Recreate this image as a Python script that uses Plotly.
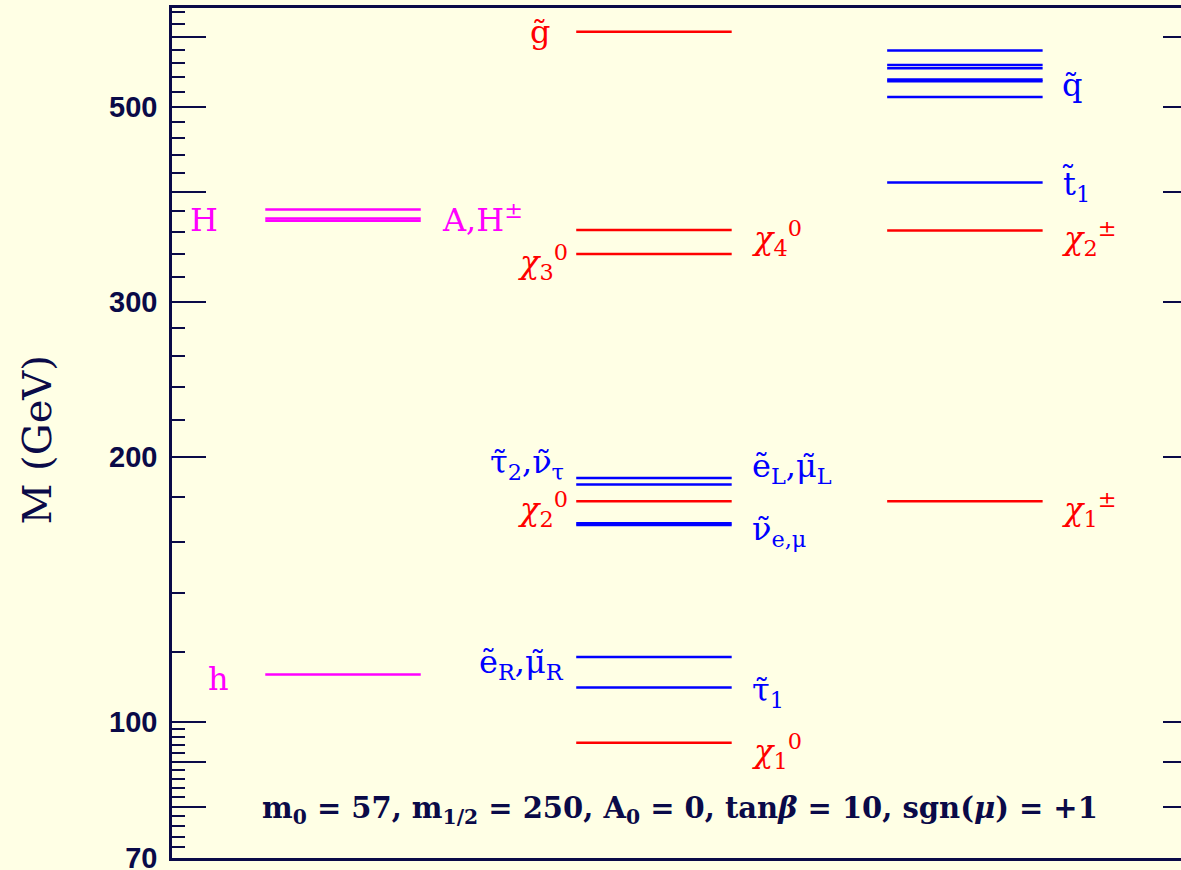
import numpy as np
import plotly.graph_objects as go

# ---------------- data (masses in GeV) ----------------
# column 1: Higgs bosons (magenta)
higgs_mass = [113.1, 381.8, 373.1, 370.8]
# column 2: gluino + neutralinos (red)
neut_mass = [608.0, 362.0, 340.0, 178.0, 94.6]
# column 2: sleptons (blue)
slep_mass = [189.2, 186.0, 168.0, 167.3, 118.4, 109.3]
# column 3: squarks and stop (blue)
squark_mass = [578.9, 557.6, 552.6, 536.6, 534.4, 512.8, 410.0]
# column 3: charginos (red)
char_mass = [361.6, 178.0]

major_ticks = [70, 80, 90, 100, 200, 300, 400, 500, 600]
major_text = ["70", "", "", "100", "200", "300", "", "500", ""]
minor_ticks = ([72, 74, 76, 78, 82, 84, 86, 88, 92, 94, 96, 98]
               + [120, 140, 160, 180, 220, 240, 260, 280, 320, 340, 360, 380,
                  420, 440, 460, 480, 520, 540, 560, 580, 620, 640])
right_ticks = [80, 90, 100, 200, 300, 400, 500, 600]

MAGENTA = "#FF00FF"
RED = "#FF0000"
BLUE = "#0000FF"
NAVY = "#0a0a48"
BG = "#FFFFE5"

HALF = 0.25
cols = {1: 1.0, 2: 2.0, 3: 3.0}

fig = go.Figure()


def add_levels(col, masses, color):
    xs, ys = [], []
    for m in masses:
        xs += [cols[col] - HALF, cols[col] + HALF, None]
        ys += [m, m, None]
    fig.add_trace(go.Scatter(x=xs, y=ys, mode="lines",
                             line=dict(color=color, width=2.5),
                             hoverinfo="skip", showlegend=False))


add_levels(1, higgs_mass, MAGENTA)
add_levels(2, neut_mass, RED)
add_levels(2, slep_mass, BLUE)
add_levels(3, squark_mass, BLUE)
add_levels(3, char_mass, RED)

# invisible trace for right-hand tick axis
fig.add_trace(go.Scatter(x=[2], y=[100], yaxis="y2", mode="markers",
                         marker=dict(opacity=0), hoverinfo="skip",
                         showlegend=False))

LFONT = "DejaVu Serif"
LSIZE = 32
T = "\u0303"
CHI = "<i>χ</i>"


def label(text, x, mass, color, xanchor, yshift):
    fig.add_annotation(x=x, y=np.log10(mass), xref="x", yref="y",
                       text=text, showarrow=False, xanchor=xanchor,
                       yanchor="middle", yshift=yshift,
                       font=dict(family=LFONT, size=LSIZE, color=color))


XL = 2.309   # left edge of labels right of column 2
XR = 1.730   # right edge of labels left of column 2
X3 = 3.305   # left edge of labels right of column 3

label("H", 0.553, higgs_mass[2], MAGENTA, "center", -2)
label("h", 0.598, higgs_mass[0], MAGENTA, "center", -4)
label("A,H<sup>±</sup>", 1.312, higgs_mass[2], MAGENTA, "left", 0)

label("g" + T, 1.672, neut_mass[0], RED, "right", 0)
label(CHI + "<sub>3</sub><sup>0</sup>", XR, neut_mass[2], RED, "right", -8)
label(CHI + "<sub>4</sub><sup>0</sup>", XL, neut_mass[1], RED, "left", -8)
label(CHI + "<sub>2</sub><sup>0</sup>", XR, neut_mass[3], RED, "right", -8)
label(CHI + "<sub>1</sub><sup>0</sup>", XL, neut_mass[4], RED, "left", -8)

label("τ" + T + "<sub>2</sub>,ν" + T + "<sub>τ</sub>", 1.717, slep_mass[0],
      BLUE, "right", 14)
label("ẽ<sub>L</sub>,μ" + T + "<sub>L</sub>", XL, slep_mass[0], BLUE, "left", 10)
label("ν" + T + "<sub>e,μ</sub>", XL, slep_mass[2], BLUE, "left", -8)
label("ẽ<sub>R</sub>,μ" + T + "<sub>R</sub>", 1.717, slep_mass[4], BLUE, "right", -7)
label("τ" + T + "<sub>1</sub>", XL, slep_mass[5], BLUE, "left", -4)

label("q" + T, X3, squark_mass[4], BLUE, "left", -4)
label("t" + T + "<sub>1</sub>", X3, squark_mass[6], BLUE, "left", -3)
label(CHI + "<sub>2</sub><sup>±</sup>", X3, char_mass[0], RED, "left", -8)
label(CHI + "<sub>1</sub><sup>±</sup>", X3, char_mass[1], RED, "left", -8)

# parameter text
fig.add_annotation(
    x=0.503, y=0.056, xref="paper", yref="paper", showarrow=False,
    xanchor="center", yanchor="middle",
    text="m<sub>0</sub> = 57, m<sub>1/2</sub> = 250, A<sub>0</sub> = 0, "
         "tan<i>β</i> = 10, sgn(<i>μ</i>) = +1",
    font=dict(family="DejaVu Serif", size=29, color=NAVY, weight="bold"))

# axis title
fig.add_annotation(
    x=-0.134, y=0.492, xref="paper", yref="paper", showarrow=False,
    xanchor="center", yanchor="middle", textangle=-90,
    text="M (GeV)",
    font=dict(family="DejaVu Serif", size=40, color=NAVY))

yr = [np.log10(70) - 2e-4, 2.811]
fig.update_layout(
    width=1181, height=870,
    margin=dict(l=172, r=0, t=8, b=12, autoexpand=False),
    paper_bgcolor=BG, plot_bgcolor=BG,
    xaxis=dict(range=[0.45, 3.695], showgrid=False, zeroline=False,
               showticklabels=False, ticks="", showline=True, mirror=True,
               linecolor=NAVY, linewidth=2.5, automargin=False),
    yaxis=dict(type="log", range=yr, showgrid=False, zeroline=False,
               automargin=False,
               tickmode="array", tickvals=major_ticks, ticktext=major_text,
               ticks="inside", ticklen=34, tickwidth=2, tickcolor=NAVY,
               showline=True, linecolor=NAVY, linewidth=2.5,
               ticklabelstandoff=6, ticklabeloverflow="allow",
               tickfont=dict(family="Liberation Sans", size=29, color=NAVY,
                             weight="bold"),
               minor=dict(tickmode="array", tickvals=minor_ticks,
                          ticks="inside", ticklen=13, tickwidth=2,
                          tickcolor=NAVY, showgrid=False)),
    yaxis2=dict(type="log", range=yr, overlaying="y", side="right",
                anchor="x", showgrid=False, zeroline=False, showline=False,
                automargin=False,
                tickmode="array", tickvals=right_ticks, showticklabels=False,
                ticks="inside", ticklen=18, tickwidth=2, tickcolor=NAVY),
)

fig.write_html("out.html")
